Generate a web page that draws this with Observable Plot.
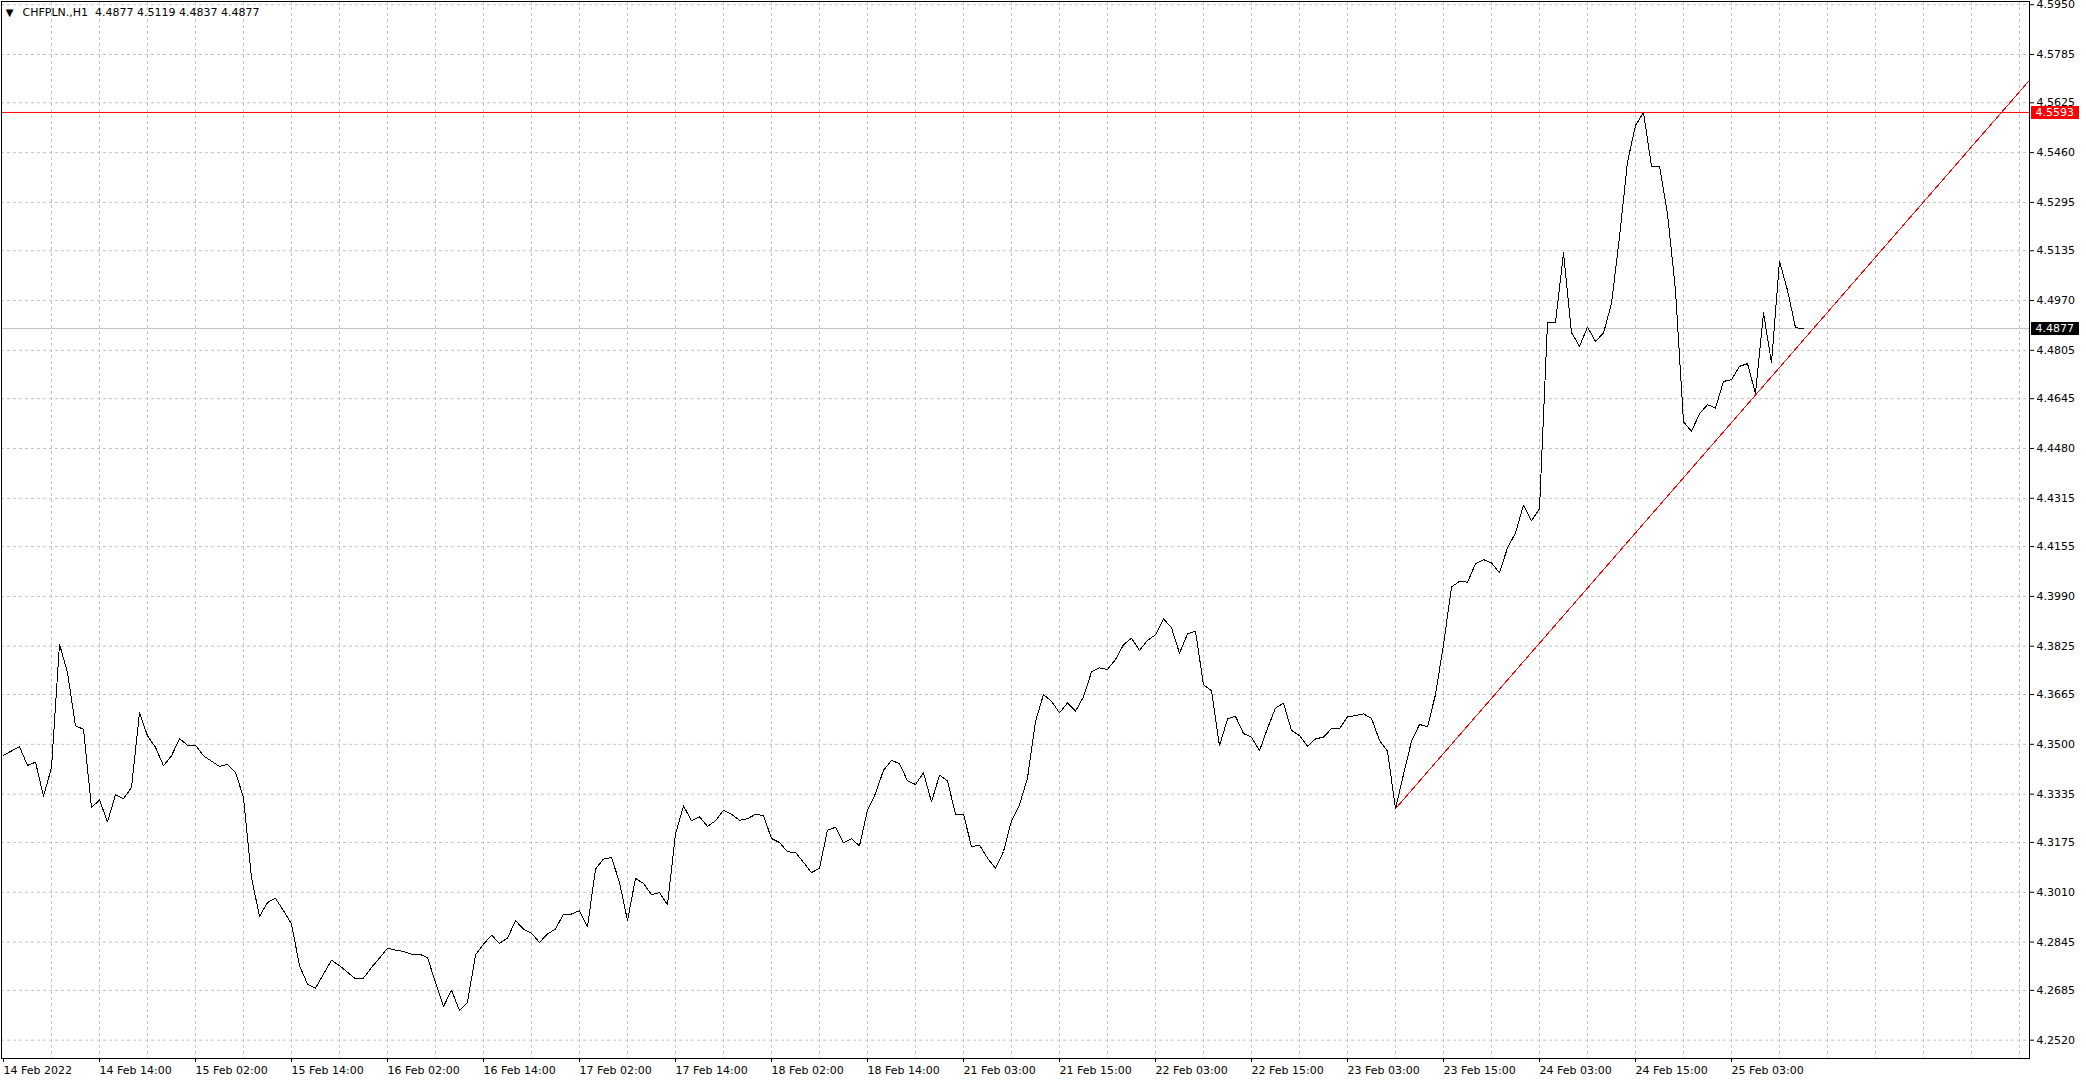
<!DOCTYPE html>
<html>
<head>
<meta charset="utf-8">
<script src="https://cdn.jsdelivr.net/npm/d3@7"></script>
<script src="https://cdn.jsdelivr.net/npm/@observablehq/plot@0.6"></script>
<style>
html, body { margin: 0; padding: 0; background: #ffffff; overflow: hidden; }
#chart svg { display: block; }
</style>
</head>
<body>
<div id="chart"></div>
<script>
// ---------- data ----------
const symbolHeader = "CHFPLN.,H1";
const ohlcHeader = "4.4877 4.5119 4.4837 4.4877";

// hourly closes, one per bar (bar 0 = 14 Feb 2022)
const closes = [
  4.3464, 4.3478, 4.3492, 4.3430, 4.3441, 4.3328, 4.3423, 4.3832, 4.3738, 4.3561,
  4.3550, 4.3290, 4.3316, 4.3243, 4.3333, 4.3320, 4.3357, 4.3605, 4.3528, 4.3490,
  4.3429, 4.3462, 4.3519, 4.3497, 4.3497, 4.3462, 4.3444, 4.3427, 4.3434, 4.3407,
  4.3324, 4.3059, 4.2930, 4.2976, 4.2990, 4.2949, 4.2905, 4.2767, 4.2706, 4.2692,
  4.2739, 4.2785, 4.2767, 4.2745, 4.2723, 4.2726, 4.2761, 4.2792, 4.2825, 4.2818,
  4.2814, 4.2805, 4.2805, 4.2794, 4.2711, 4.2631, 4.2686, 4.2618, 4.2645, 4.2803,
  4.2838, 4.2868, 4.2841, 4.2858, 4.2916, 4.2888, 4.2874, 4.2844, 4.2872, 4.2888,
  4.2938, 4.2938, 4.2949, 4.2896, 4.3087, 4.3120, 4.3125, 4.3043, 4.2916, 4.3056,
  4.3039, 4.3002, 4.3009, 4.2969, 4.3203, 4.3296, 4.3247, 4.3260, 4.3228, 4.3247,
  4.3282, 4.3269, 4.3248, 4.3254, 4.3268, 4.3264, 4.3188, 4.3175, 4.3144, 4.3142,
  4.3109, 4.3075, 4.3090, 4.3216, 4.3225, 4.3174, 4.3187, 4.3164, 4.3282, 4.3337,
  4.3414, 4.3447, 4.3436, 4.3379, 4.3367, 4.3406, 4.3309, 4.3398, 4.3379, 4.3269,
  4.3269, 4.3161, 4.3166, 4.3123, 4.3089, 4.3145, 4.3247, 4.3300, 4.3388, 4.3576,
  4.3665, 4.3643, 4.3604, 4.3637, 4.3610, 4.3657, 4.3740, 4.3753, 4.3748, 4.3781,
  4.3830, 4.3852, 4.3811, 4.3844, 4.3863, 4.3916, 4.3886, 4.3802, 4.3866, 4.3875,
  4.3697, 4.3678, 4.3495, 4.3584, 4.3593, 4.3536, 4.3523, 4.3479, 4.3553, 4.3620,
  4.3636, 4.3546, 4.3529, 4.3494, 4.3518, 4.3524, 4.3552, 4.3552, 4.3591, 4.3595,
  4.3601, 4.3586, 4.3513, 4.3477, 4.3287, 4.3400, 4.3510, 4.3566, 4.3558, 4.3665,
  4.3830, 4.4021, 4.4040, 4.4037, 4.4098, 4.4112, 4.4101, 4.4068, 4.4151, 4.4200,
  4.4292, 4.4241, 4.4280, 4.4897, 4.4897, 4.5128, 4.4864, 4.4818, 4.4882, 4.4835,
  4.4862, 4.4960, 4.5180, 4.5429, 4.5550, 4.5593, 4.5414, 4.5415, 4.5258, 4.5004,
  4.4568, 4.4537, 4.4595, 4.4625, 4.4614, 4.4702, 4.4708, 4.4752, 4.4761, 4.4662,
  4.4929, 4.4764, 4.5100, 4.5004, 4.4880, 4.4877
];

const yTickValues = [
  4.2520, 4.2685, 4.2845, 4.3010, 4.3175, 4.3335, 4.3500, 4.3665, 4.3825, 4.3990,
  4.4155, 4.4315, 4.4480, 4.4645, 4.4805, 4.4970, 4.5135, 4.5295, 4.5460, 4.5625,
  4.5785, 4.5950
];

const xLabelBars = [0, 12, 24, 36, 48, 60, 72, 84, 96, 108, 120, 132, 144, 156, 168, 180, 192, 204, 216];
const xLabelTexts = [
  "14 Feb 2022", "14 Feb 14:00", "15 Feb 02:00", "15 Feb 14:00", "16 Feb 02:00",
  "16 Feb 14:00", "17 Feb 02:00", "17 Feb 14:00", "18 Feb 02:00", "18 Feb 14:00",
  "21 Feb 03:00", "21 Feb 15:00", "22 Feb 03:00", "22 Feb 15:00", "23 Feb 03:00",
  "23 Feb 15:00", "24 Feb 03:00", "24 Feb 15:00", "25 Feb 03:00"
];

// trend line anchored on two lows (bar index, price), drawn as a ray to the right
const trendBars = [174, 219];
const trendPrices = [4.3287, 4.4657];

const resistanceLevel = 4.5593;   // red horizontal line
const bidLevel = 4.4877;          // grey bid line

// ---------- layout ----------
const W = 2086, H = 1082;
const mL = 1, mR = 57, mT = 1, mB = 24;
const barPitch = 8, bar0Px = 3;                 // pixel spacing of bars
const pxToBar = p => (p - bar0Px) / barPitch;
const xDomain = [pxToBar(mL), pxToBar(W - mR)];
const refPrice = 4.2520, refPx = 1039.7, pxPerUnit = 3019;
const pxToPrice = p => refPrice + (refPx - p) / pxPerUnit;
const yDomain = [pxToPrice(H - mB), pxToPrice(mT)];

const gridBars = d3.range(6, xDomain[1], 6);

const slope = (trendPrices[1] - trendPrices[0]) / (trendBars[1] - trendBars[0]);
const trend = [
  {bar: trendBars[0], price: trendPrices[0]},
  {bar: xDomain[1], price: trendPrices[0] + slope * (xDomain[1] - trendBars[0])}
];

const series = closes.map((c, i) => ({bar: i, price: c}));
const boxes = [
  {level: resistanceLevel, fill: "#ff0000"},
  {level: bidLevel, fill: "#000000"}
];
const boxX1 = pxToBar(2031), boxX2 = pxToBar(2079);

const gridColor = "#c2c2c2";

const chart = Plot.plot({
  width: W,
  height: H,
  marginLeft: mL,
  marginRight: mR,
  marginTop: mT,
  marginBottom: mB,
  style: {fontFamily: "'DejaVu Sans', sans-serif", fontSize: "11px", background: "#ffffff", color: "#000000", overflow: "visible"},
  x: {type: "linear", domain: xDomain, axis: null},
  y: {type: "linear", domain: yDomain, axis: null},
  marks: [
    Plot.ruleY(yTickValues, {stroke: gridColor, strokeDasharray: "3,3"}),
    Plot.ruleX(gridBars, {stroke: gridColor, strokeDasharray: "3,3"}),
    Plot.ruleY([bidLevel], {stroke: "#c0c0c0"}),
    Plot.ruleY([resistanceLevel], {stroke: "#ff0000"}),
    Plot.line(trend, {x: "bar", y: "price", stroke: "#ff0000", strokeWidth: 1, clip: true, shapeRendering: "crispEdges"}),
    Plot.line(series, {x: "bar", y: "price", stroke: "#000000", strokeWidth: 1, shapeRendering: "crispEdges"}),
    Plot.frame({stroke: "#000000"}),
    Plot.axisY(yTickValues, {
      anchor: "right", tickSize: 4, tickPadding: 3, fontSize: 11,
      tickFormat: d => d.toFixed(4), label: null, stroke: "#000000"
    }),
    Plot.axisX(xLabelBars, {
      anchor: "bottom", tickSize: 4, tickPadding: 4, fontSize: 11, textAnchor: "start", dx: 0,
      tickFormat: d => xLabelTexts[xLabelBars.indexOf(d)], label: null, stroke: "#000000"
    }),
    Plot.ruleY(boxes, {y: "level", x1: boxX1, x2: boxX2, stroke: "fill", strokeWidth: 13}),
    Plot.text(boxes, {y: "level", text: d => d.level.toFixed(4), frameAnchor: "right", dx: 6,
      textAnchor: "start", fill: "#ffffff", fontSize: 11}),
    Plot.text(["\u25BC"], {frameAnchor: "top-left", dx: 8, dy: 11, textAnchor: "middle", lineAnchor: "middle", fontSize: 10, fill: "#000000"}),
    Plot.text([symbolHeader + "\u00A0\u00A0" + ohlcHeader], {frameAnchor: "top-left", dx: 21, dy: 11,
      textAnchor: "start", lineAnchor: "middle", fontSize: 11, fill: "#000000"})
  ]
});

document.getElementById("chart").appendChild(chart);
</script>
</body>
</html>
